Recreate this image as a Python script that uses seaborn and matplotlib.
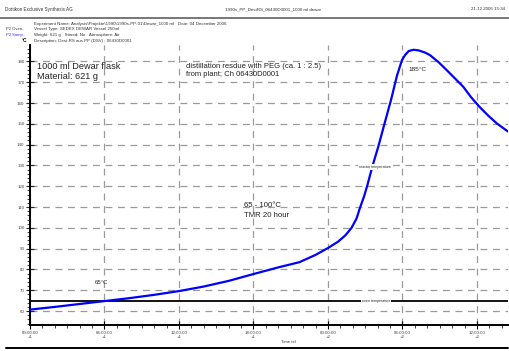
import matplotlib
matplotlib.use("Agg")
import matplotlib.pyplot as plt
from matplotlib.ticker import MultipleLocator, FixedLocator
import seaborn as sns
import pandas as pd

# ---- data ----
reactor_time_h = [0, 2, 4, 6, 8, 10, 12, 14, 16, 18, 20, 21.7, 23, 24, 24.8, 25.4, 25.9,
                  26.3, 26.6, 26.9, 27.15, 27.6, 28.05, 28.55, 29.1, 29.55, 29.95, 30.2,
                  30.5, 30.9, 31.3, 31.8, 32.2, 32.9, 33.55, 34.2, 34.9, 35.5, 36.2,
                  36.9, 37.6, 38.5]
reactor_temp_c = [60.7, 62.0, 63.4, 64.8, 66.2, 67.8, 69.6, 71.8, 74.5, 77.8, 81.0, 83.5,
                  87.0, 90.3, 93.3, 96.4, 100.0, 104.5, 110.0, 115.0, 120.0, 130.0,
                  139.0, 150.0, 162.0, 173.0, 180.5, 183.0, 185.0, 185.6, 185.3, 184.3,
                  183.1, 179.7, 175.9, 172.0, 167.8, 163.0, 158.2, 154.0, 150.2, 146.3]
oven_time_h = [0, 12, 24, 38.5]
oven_temp_c = [64.8, 64.8, 64.8, 64.8]

x_tick_hours = [0, 6, 12, 18, 24, 30, 36]
x_tick_labels = ["00:00:00\n+1", "06:00:00\n+1", "12:00:00\n+1", "18:00:00\n+1",
                 "00:00:00\n+2", "06:00:00\n+2", "12:00:00\n+2"]
y_ticks = [60, 70, 80, 90, 100, 110, 120, 130, 140, 150, 160, 170, 180]

reactor = pd.DataFrame({"time": reactor_time_h, "temp": reactor_temp_c})
oven = pd.DataFrame({"time": oven_time_h, "temp": oven_temp_c})

sns.set_style("white")
plt.rcParams["font.family"] = ["Liberation Sans", "DejaVu Sans"]

fig = plt.figure(figsize=(5.10, 3.51), dpi=100)
ax = fig.add_axes([30 / 510, 1 - 325 / 351, 478 / 510, 280 / 351])

ax.set_xlim(0, 38.5)
ax.set_ylim(53.3, 187.9)

# grid
for h in x_tick_hours:
    ax.axvline(h, color="#9a9a9a", lw=0.9, dashes=(5.5, 4.5), zorder=0)
for v in y_ticks:
    ax.axhline(v, color="#9a9a9a", lw=0.9, dashes=(5.5, 4.5), zorder=0)

sns.lineplot(data=oven, x="time", y="temp", ax=ax, color="black", lw=1.3,
             estimator=None, sort=False, zorder=2)
sns.lineplot(data=reactor, x="time", y="temp", ax=ax, color="#0000ff", lw=1.6,
             estimator=None, sort=False, zorder=3)

ax.set_xlabel("")
ax.set_ylabel("")

for s in ["top", "right"]:
    ax.spines[s].set_visible(False)
for s in ["left", "bottom"]:
    ax.spines[s].set_color("black")
    ax.spines[s].set_linewidth(1.4)

ax.xaxis.set_major_locator(FixedLocator(x_tick_hours))
ax.set_xticklabels(x_tick_labels)
ax.xaxis.set_minor_locator(MultipleLocator(1))
ax.yaxis.set_major_locator(FixedLocator(y_ticks))
ax.yaxis.set_minor_locator(MultipleLocator(2))
ax.tick_params(axis="x", which="major", direction="inout", length=6, width=0.8,
               labelsize=3.2, pad=1, colors="black", labelcolor="#444444",
               bottom=True)
ax.tick_params(axis="x", which="minor", direction="out", length=2, width=0.6,
               bottom=True)
ax.tick_params(axis="y", which="major", direction="inout", length=6, width=0.8,
               labelsize=3.2, pad=1, labelcolor="#444444", left=True)
ax.tick_params(axis="y", which="minor", direction="out", length=2.2, width=0.6,
               left=True)

# annotations inside plot
tc = "#222222"
ax.text(0.6, 177.4, "1000 ml Dewar flask", fontsize=6.6, color=tc, va="center", ha="left")
ax.text(0.6, 172.8, "Material: 621 g", fontsize=6.6, color=tc, va="center", ha="left")
ax.text(12.6, 177.8, "distillation resdue with PEG (ca. 1 : 2.5)", fontsize=5.5,
        color=tc, va="center", ha="left")
ax.text(12.6, 173.8, "from plant; Ch 06430D0001", fontsize=5.5, color=tc,
        va="center", ha="left")
ax.text(17.2, 110.9, "65 - 100°C", fontsize=5.6, color=tc, va="center", ha="left")
ax.text(17.2, 106.1, "TMR 20 hour", fontsize=5.6, color=tc, va="center", ha="left")
ax.text(5.75, 73.6, "65°C", fontsize=4.4, color=tc, va="center", ha="center")
ax.text(31.2, 176.2, "185°C", fontsize=4.6, color=tc, va="center", ha="center")
ax.text(27.8, 129.1, "reactor temperature", fontsize=2.6, color=tc, va="center",
        ha="center", zorder=5,
        bbox=dict(facecolor="white", edgecolor="none", pad=0.6))
ax.text(27.9, 64.8, "oven temperature", fontsize=2.6, color=tc, va="center",
        ha="center", zorder=5,
        bbox=dict(facecolor="white", edgecolor="none", pad=0.6))

# header
hc = "#333333"
fig.text(5 / 510, 1 - 9 / 351, "Dottikon Exclusive Synthesis AG", fontsize=3.3,
         color=hc, va="center", ha="left")
fig.text(273 / 510, 1 - 9 / 351, "1990s_PP_DestRS_06430D0001_1000 ml dewar",
         fontsize=3.2, color=hc, va="center", ha="center")
fig.text(505 / 510, 1 - 9 / 351, "21.12.2006 15:34", fontsize=3.2, color=hc,
         va="center", ha="right")
fig.add_artist(plt.Line2D([0, 1], [1 - 17.5 / 351, 1 - 17.5 / 351],
                          color="#777777", lw=1.4, transform=fig.transFigure))

meta = ["Experiment Name: Analysis\\Projekte\\1990\\1990s-PP-01\\Dewar_1000 ml   Date: 04 December 2006",
        "Vessel Type: SEDEX DEWAR Vessel 250ml",
        "Weight: 621 g   Stirred: No   Atmosphere: Air",
        "Description: Dest.RS aus PP (DSV) ; 06430D0001"]
meta_y = [24, 29, 35, 41]
for t, yy in zip(meta, meta_y):
    fig.text(34 / 510, 1 - yy / 351, t, fontsize=3.2, color=hc, va="center", ha="left")
fig.text(6 / 510, 1 - 29 / 351, "P2 Oven..", fontsize=3.0, color=hc, va="center", ha="left")
fig.text(6 / 510, 1 - 35 / 351, "P2 Samp..", fontsize=3.0, color="#3333ff",
         va="center", ha="left")
fig.text(27 / 510, 1 - 41 / 351, "°C", fontsize=3.4, color="black", fontweight="bold",
         va="center", ha="right")

# footer
fig.text(288 / 510, 1 - 342 / 351, "Time rel", fontsize=3.0, color=hc,
         va="center", ha="center")
fig.add_artist(plt.Line2D([6 / 510, 508 / 510], [1 - 347.5 / 351, 1 - 347.5 / 351],
                          color="black", lw=1.4, transform=fig.transFigure))

fig.savefig("out.png", dpi=100)
